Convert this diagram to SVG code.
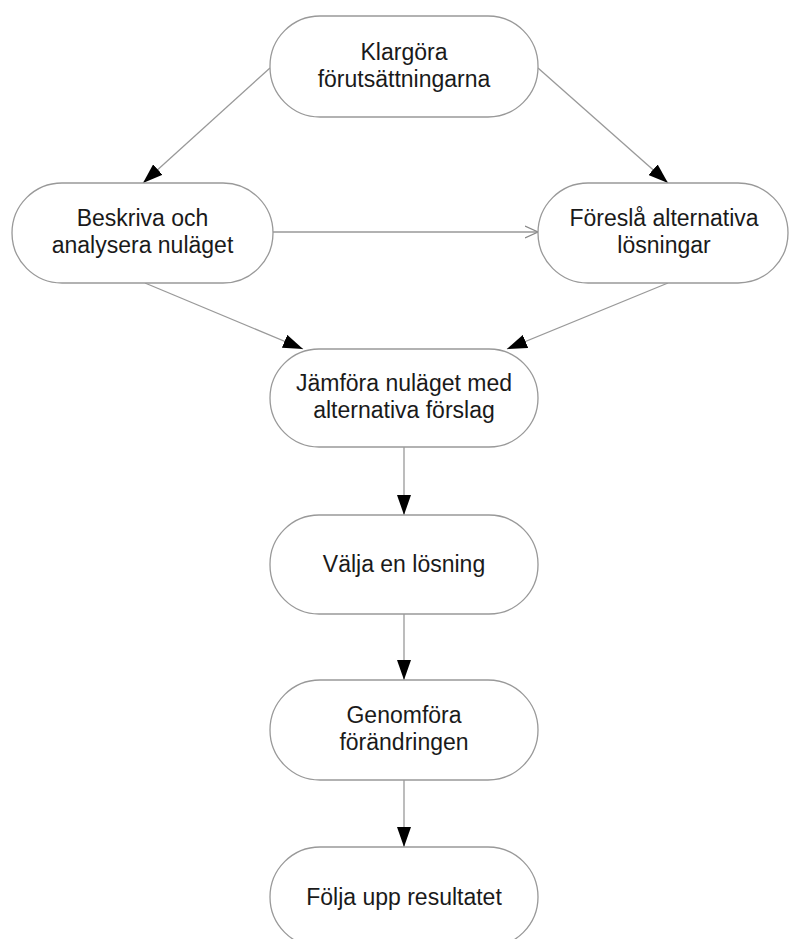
<svg xmlns="http://www.w3.org/2000/svg" width="789" height="939" viewBox="0 0 789 939">
<style>
.node rect{fill:#fff;stroke:#999;stroke-width:1.3}
.node text{font-family:"Liberation Sans",Arial,sans-serif;font-size:23px;fill:#1a1a1a;text-anchor:middle}
.edges line{stroke:#999;stroke-width:1.3}
</style>
<defs>
<marker id="arr" markerUnits="userSpaceOnUse" markerWidth="20" markerHeight="14" refX="20" refY="7" orient="auto">
<path d="M0,0 L20,7 L0,14 z" fill="#000"/>
</marker>
<marker id="open" markerUnits="userSpaceOnUse" markerWidth="14" markerHeight="14" refX="13" refY="7" orient="auto">
<path d="M0,1 L13,7 L0,13" fill="none" stroke="#888" stroke-width="1.3"/>
</marker>
</defs>
<rect width="789" height="939" fill="#fff"/>
<g class="edges">
<line x1="270" y1="68" x2="143" y2="183" marker-end="url(#arr)"/>
<line x1="538" y1="68" x2="668" y2="183" marker-end="url(#arr)"/>
<line x1="273" y1="232" x2="538" y2="232" marker-end="url(#open)"/>
<line x1="145" y1="283" x2="303" y2="349" marker-end="url(#arr)"/>
<line x1="668" y1="283" x2="507" y2="349" marker-end="url(#arr)"/>
<line x1="404" y1="447" x2="404" y2="515" marker-end="url(#arr)"/>
<line x1="404" y1="614" x2="404" y2="680" marker-end="url(#arr)"/>
<line x1="404" y1="780" x2="404" y2="847" marker-end="url(#arr)"/>
</g>
<g id="n1" class="node"><rect x="270" y="16" width="268" height="101" rx="50"/><text x="404" y="60">Klargöra</text><text x="404" y="87">förutsättningarna</text></g>
<g id="n2" class="node"><rect x="12" y="183" width="261" height="100" rx="50"/><text x="142.5" y="226">Beskriva och</text><text x="142.5" y="253">analysera nuläget</text></g>
<g id="n3" class="node"><rect x="538" y="183" width="250" height="100" rx="50"/><text x="664" y="226">Föreslå alternativa</text><text x="664" y="253">lösningar</text></g>
<g id="n4" class="node"><rect x="270" y="349" width="268" height="98" rx="49"/><text x="404" y="391">Jämföra nuläget med</text><text x="404" y="418">alternativa förslag</text></g>
<g id="n5" class="node"><rect x="270" y="515" width="268" height="99" rx="49"/><text x="404" y="572">Välja en lösning</text></g>
<g id="n6" class="node"><rect x="270" y="680" width="268" height="100" rx="50"/><text x="404" y="723">Genomföra</text><text x="404" y="750">förändringen</text></g>
<g id="n7" class="node"><rect x="270" y="847" width="268" height="100" rx="50"/><text x="404" y="905">Följa upp resultatet</text></g>
</svg>
